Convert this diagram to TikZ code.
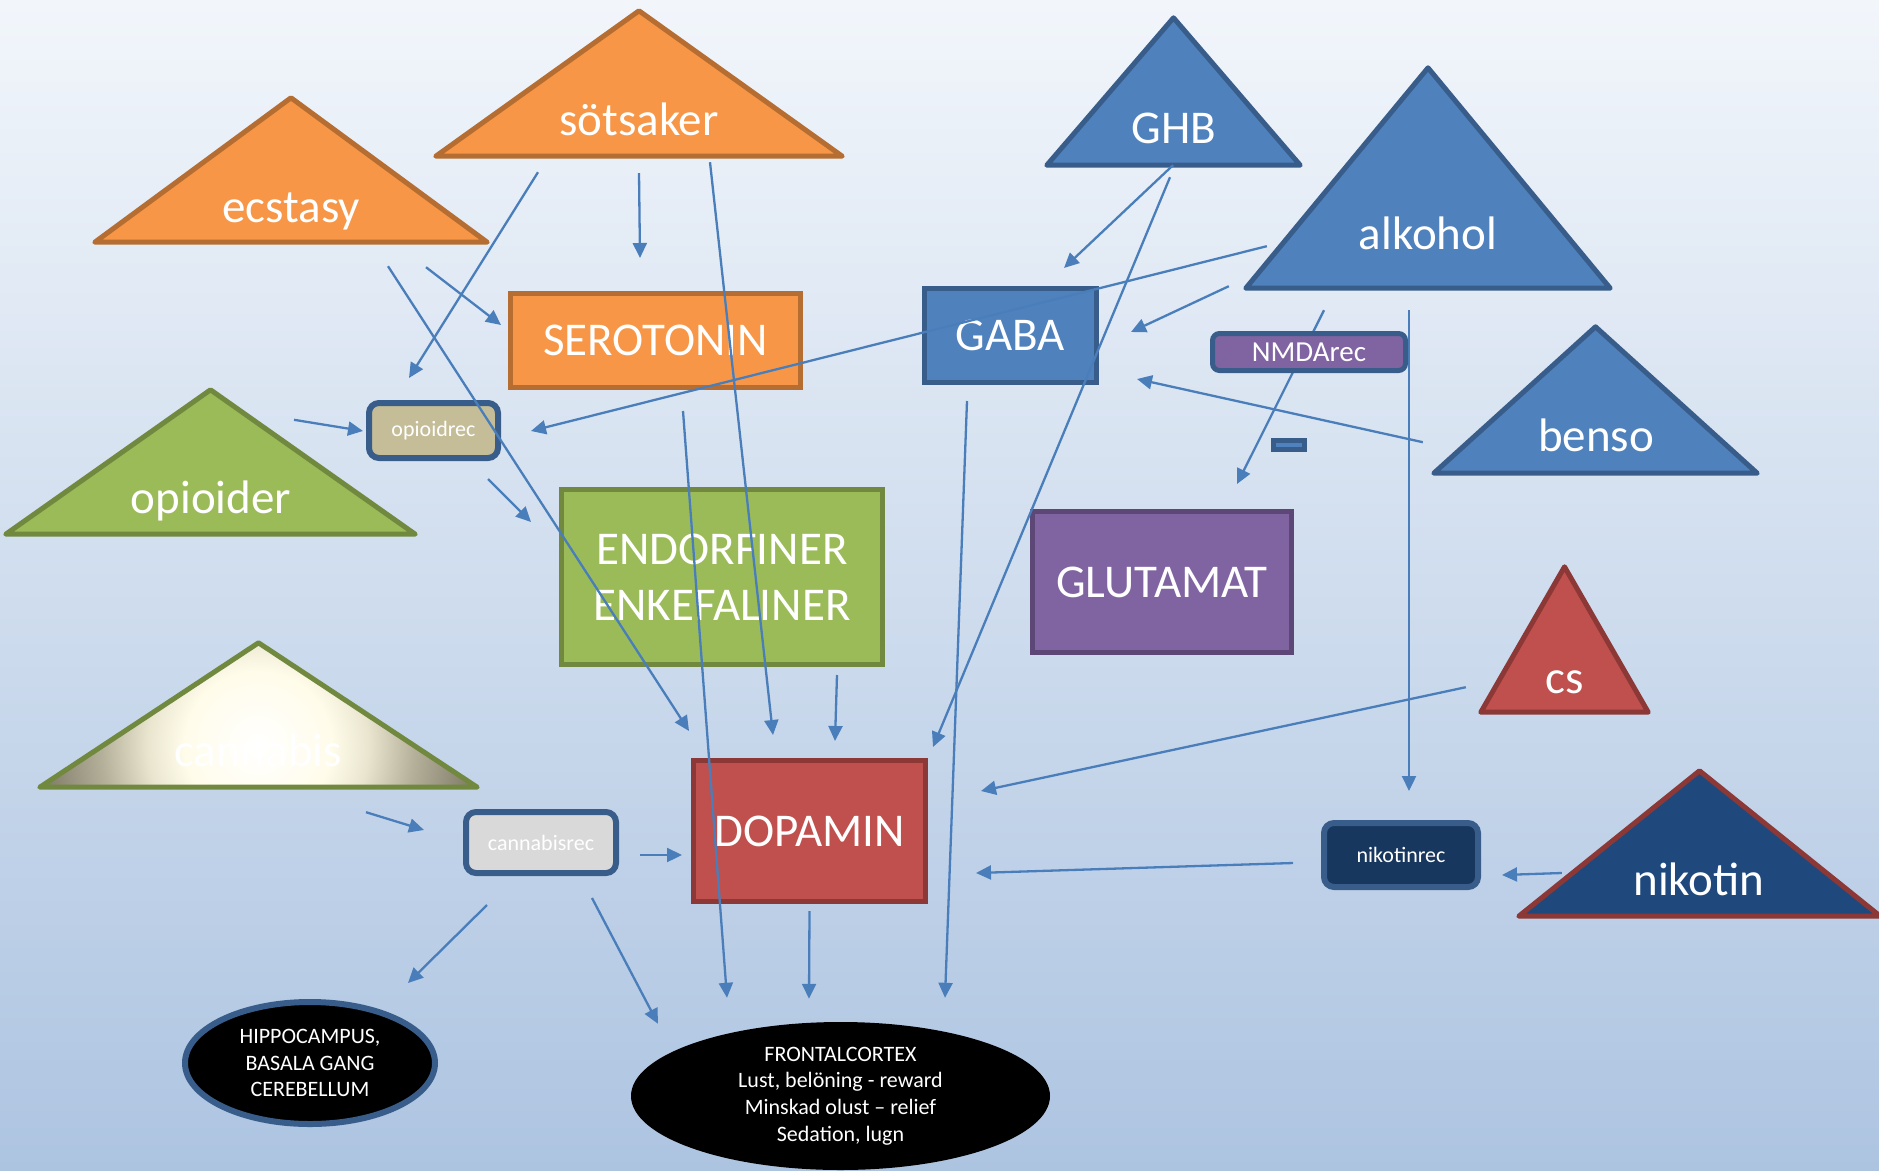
\documentclass[tikz,border=0pt]{standalone}
\usepackage{fontspec}
\setmainfont{Carlito}
\usetikzlibrary{arrows.meta,shapes.geometric}

\definecolor{bgtop}{HTML}{F2F6FB}
\definecolor{bgbottom}{HTML}{ADC4E1}
\definecolor{orangefill}{HTML}{F79646}
\definecolor{orangeline}{HTML}{B66D31}
\definecolor{bluefill}{HTML}{4F81BD}
\definecolor{blueline}{HTML}{385D8A}
\definecolor{greenfill}{HTML}{9BBB59}
\definecolor{greenline}{HTML}{71893F}
\definecolor{purplefill}{HTML}{8064A2}
\definecolor{purpleline}{HTML}{5C4776}
\definecolor{redfill}{HTML}{C0504D}
\definecolor{redline}{HTML}{8C3836}
\definecolor{navyfill}{HTML}{1F497D}
\definecolor{nikrecfill}{HTML}{17375E}
\definecolor{opirecfill}{HTML}{C4BD97}
\definecolor{canrecfill}{HTML}{D9D9D9}
\definecolor{arrowblue}{HTML}{4A7EBB}
\definecolor{cannacream}{HTML}{FFFCEA}
\definecolor{cannalight}{HTML}{E9E5CF}
\definecolor{cannamid}{HTML}{B5B09A}
\definecolor{cannadark}{HTML}{7D7864}

\pgfdeclareradialshading{cannaglow}{\pgfpoint{0bp}{0bp}}{color(0bp)=(white); color(8bp)=(cannacream); color(12bp)=(cannalight); color(17bp)=(cannamid); color(24bp)=(cannadark); color(50bp)=(cannadark)}

\newcommand{\bigtxt}{\fontsize{47pt}{55.5pt}\selectfont}
\newcommand{\smalltxt}{\fontsize{22pt}{26.7pt}\selectfont}
\newcommand{\midtxt}{\fontsize{29pt}{34pt}\selectfont}

\begin{document}
\begin{tikzpicture}
  [x=1pt,y=-1pt,
   tribox/.style={rectangle,inner sep=0pt,draw=none},
   triline/.style={line width=5pt,line join=round},
   box/.style={rectangle,inner sep=0pt,line width=5pt,text=white,font=\bigtxt,align=center},
   recbox/.style={rectangle,rounded corners=10pt,inner sep=0pt,line width=6pt,draw=blueline,text=white,font=\smalltxt},
   lbl/.style={inner sep=0pt,anchor=base,text=white,font=\bigtxt},
   arr/.style={draw=arrowblue,line width=2.3pt,-{Triangle[length=15pt,width=14pt]}}]
  \useasboundingbox (0,0) rectangle (1879,1170);
  \shade[top color=bgtop,bottom color=bgbottom] (0,0) rectangle (1879,1170);

  \node[tribox,minimum width=406pt,minimum height=145pt] (sot) at (639,83.5) {};
  \node[tribox,minimum width=392pt,minimum height=144pt] (ecs) at (291,170) {};
  \node[tribox,minimum width=409pt,minimum height=144pt] (opd) at (210.5,462) {};
  \node[tribox,minimum width=437pt,minimum height=144pt] (canna) at (258.5,715) {};
  \node[tribox,minimum width=253pt,minimum height=147pt] (ghb) at (1173.5,91.5) {};
  \node[tribox,minimum width=364pt,minimum height=220pt] (alk) at (1428,178) {};
  \node[tribox,minimum width=323pt,minimum height=146pt] (ben) at (1595.5,400) {};
  \node[tribox,minimum width=167pt,minimum height=145pt] (cs) at (1564.5,639.5) {};
  \node[tribox,minimum width=361pt,minimum height=145pt] (nkt) at (1699.5,843.5) {};

  \foreach \n/\f/\d in {sot/orangefill/orangeline, ecs/orangefill/orangeline,
      opd/greenfill/greenline, ghb/bluefill/blueline, alk/bluefill/blueline,
      ben/bluefill/blueline, cs/redfill/redline, nkt/navyfill/redline}
    \draw[triline,fill=\f,draw=\d] (\n.north) -- (\n.south east) -- (\n.south west) -- cycle;

  \begin{scope}
    \clip (canna.north) -- (canna.south east) -- (canna.south west) -- cycle;
    \shade[shading=cannaglow] (28,515) rectangle (488,975);
  \end{scope}
  \draw[triline,draw=greenline] (canna.north) -- (canna.south east) -- (canna.south west) -- cycle;

  \node[lbl] (sotl) at (639,135) {sötsaker};
  \node[lbl] (ecsl) at (291,222) {ecstasy};
  \node[lbl] (opdl) at (211,513) {opioider};
  \node[lbl] (cannal) at (258,766) {cannabis};
  \node[lbl] (ghbl) at (1174,143) {GHB};
  \node[lbl] (alkl) at (1428,249) {alkohol};
  \node[lbl] (benl) at (1596,451.5) {benso};
  \node[lbl] (csl) at (1565,693) {cs};
  \node[lbl] (nktl) at (1699,895) {nikotin};

  \node[box,fill=orangefill,draw=orangeline,minimum width=290pt,minimum height=94pt] (ser) at (655.5,340.5) {SEROTONIN};
  \node[box,fill=bluefill,draw=blueline,minimum width=172pt,minimum height=94pt] (gaba) at (1010.5,335.5) {GABA};
  \node[box,fill=greenfill,draw=greenline,minimum width=321pt,minimum height=175pt] (endo) at (722,577) {ENDORFINER\\ENKEFALINER};
  \node[box,fill=purplefill,draw=purpleline,minimum width=259pt,minimum height=141pt] (glut) at (1162,582) {GLUTAMAT};
  \node[box,fill=redfill,draw=redline,minimum width=232pt,minimum height=141pt] (dop) at (809.5,831) {DOPAMIN};

  \node[recbox,fill=opirecfill,minimum width=129pt,minimum height=55pt] (opi) at (433.5,430.5) {opioidrec};
  \node[recbox,fill=canrecfill,minimum width=150pt,minimum height=61pt] (can) at (541,842.5) {cannabisrec};
  \node[recbox,fill=nikrecfill,minimum width=154pt,minimum height=64pt] (nik) at (1401,855) {nikotinrec};

  \node[ellipse,fill=black,draw=blueline,line width=6pt,inner sep=0pt,minimum width=250pt,minimum height=122pt,
        text=white,font=\smalltxt,align=center] (hip) at (310,1063) {HIPPOCAMPUS,\\BASALA GANG\\CEREBELLUM};
  \node[ellipse,fill=black,inner sep=0pt,minimum width=419pt,minimum height=148pt,
        text=white,font=\smalltxt,align=center] (fro) at (840.5,1096) {FRONTALCORTEX\\Lust, belöning - reward\\Minskad olust – relief\\Sedation, lugn};

  \node[rectangle,fill=bluefill,draw=blueline,line width=5pt,inner sep=0pt,minimum width=31pt,minimum height=8.5pt] (minus) at (1288.7,445) {};

  \foreach \from/\fx/\fy/\to/\tx/\ty in {
      sot.south/-101/16/opi.north/-24.5/-22,
      sot.south/0/17/ser.north/-15.5/-33,
      sot.south/71/6/dop.north/-36.5/-23,
      ecs.south/135/25/ser.west/-7/-15.5,
      ecs.south/97/24/dop.north west/-2/-27,
      opd.north/83.5/30/opi.west/-3/0.5,
      opi.south/54.5/18/endo.west/-28/-55,
      alk.south west/21/-42/opi.east/30/0.5,
      alk.south west/-17/-2/gaba.east/32/-3.5,
      ghb.south/-0.5/0/gaba.north/53.5/-18,
      ghb.south/-3.5/12/dop.north east/5/-11,
      alk.south/-104/22/glut.north/75/-25,
      alk.south/-19/22/nik.north/8/-29,
      ben.south west/-11/-31/gaba.south east/38/-6,
      gaba.south/-43.5/16/fro.north/104.5/-24,
      ser.south/27.5/21/fro.north/-113.5/-24,
      endo.south/115/8/dop.north/25.5/-17,
      cs.south west/-15/-25/dop.east/53/-40,
      nik.west/-28/8/dop.east/48/42,
      nkt.west/43/29.5/nik.east/21/20,
      canna.south/107.5/25/can.west/-39/-12.5,
      can.east/21/12.5/dop.west/-9/24,
      can.south/-54/29/hip.north/98/-16,
      can.south/51/22/fro.north/-182.5/2,
      dop.south/0/7/fro.north/-31.5/-23}
    \draw[arr] ([shift={(\fx,\fy)}]\from) -- ([shift={(\tx,\ty)}]\to);

  \node[recbox,rounded corners=7pt,line width=5pt,fill=purplefill,font=\midtxt,minimum width=193pt,minimum height=37pt] (nmda) at (1309,352) {NMDArec};
\end{tikzpicture}
\end{document}
